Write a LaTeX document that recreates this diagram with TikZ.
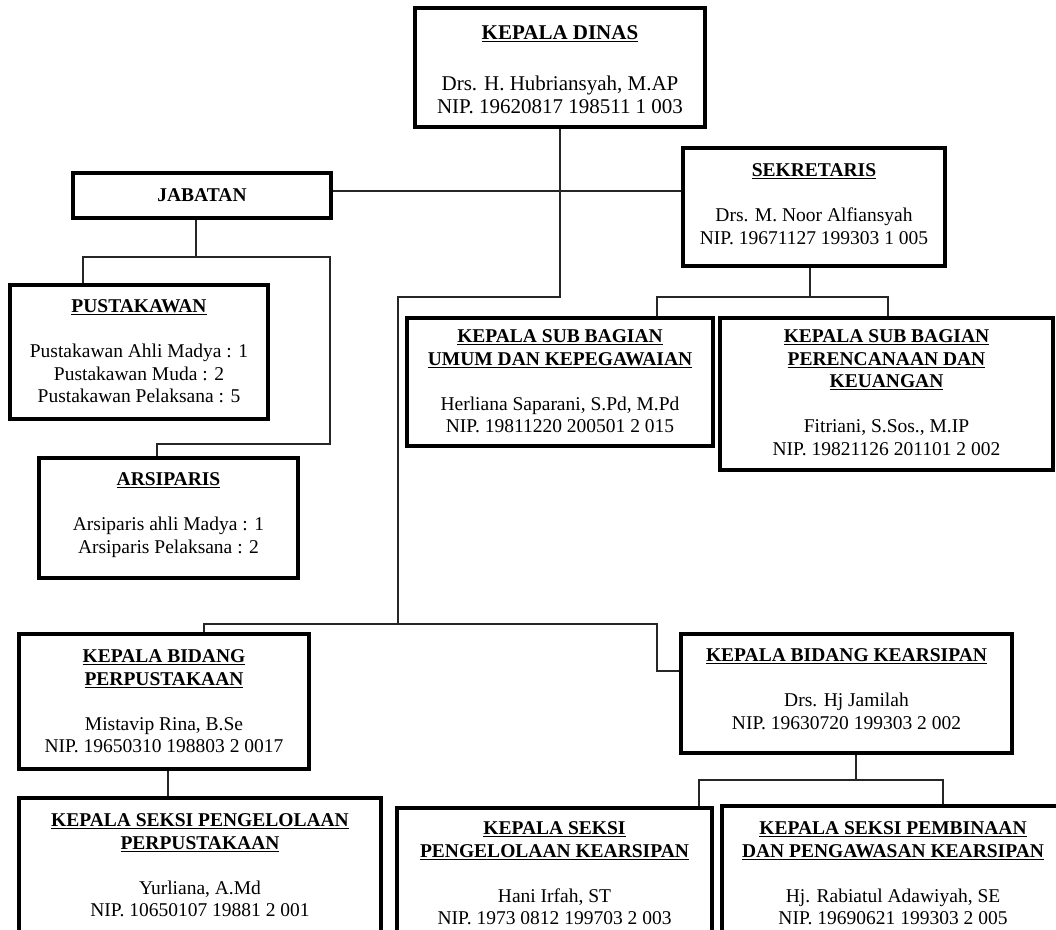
\documentclass[tikz,border=0pt]{standalone}
\usepackage{fontspec}
\setmainfont{Liberation Serif}
\begin{document}
\begin{tikzpicture}[x=1pt,y=-1pt,
  obox/.style={draw=black, line width=3.5pt, inner sep=0pt, fill=white},
  otext/.style={anchor=north, align=center, inner sep=0pt, font=\fontsize{19.5}{22.5}\selectfont},
  bigtext/.style={anchor=north, align=center, inner sep=0pt, font=\fontsize{21}{23}\selectfont},
  conn/.style={draw=black!85, line width=1.2pt}]
\useasboundingbox (0,0) rectangle (1056,929);
\clip (0,0) rectangle (1056,929);
\fill[white] (0,0) rectangle (1056,929);
% boxes
\node[obox, minimum width=290, minimum height=119] (kd) at (560,67.5) {};
\node[obox, minimum width=258, minimum height=45] (jab) at (202,195.5) {};
\node[obox, minimum width=262, minimum height=118] (sek) at (814,207) {};
\node[obox, minimum width=258, minimum height=134] (pus) at (139,352) {};
\node[obox, minimum width=259, minimum height=120] (ars) at (168.5,518) {};
\node[obox, minimum width=306, minimum height=128] (umum) at (560,382) {};
\node[obox, minimum width=333, minimum height=152] (renc) at (886.5,394) {};
\node[obox, minimum width=290, minimum height=135] (bperp) at (164,701.5) {};
\node[obox, minimum width=331, minimum height=119] (bkear) at (846.5,693.5) {};
\node[obox, minimum width=362, minimum height=147] (sperp) at (200,871.5) {};
\node[obox, minimum width=315, minimum height=137] (skear) at (554.5,876.5) {};
\node[obox, minimum width=342, minimum height=139] (spemb) at (893,875.5) {};
% texts
\node[bigtext] (kdt) at (560,25) {\textbf{\underline{KEPALA DINAS}}\\[28pt] Drs. H. Hubriansyah, M.AP\\ NIP. 19620817 198511 1 003};
\node[otext] (jabt) at (202,188.5) {\textbf{JABATAN}};
\node[otext] (sekt) at (814,163.5) {\textbf{\underline{SEKRETARIS}}\\[22.5pt] Drs. M. Noor Alfiansyah\\ NIP. 19671127 199303 1 005};
\node[otext] (pust) at (139,299.5) {\textbf{\underline{PUSTAKAWAN}}\\[22.5pt] Pustakawan Ahli Madya : 1\\ Pustakawan Muda : 2\\ Pustakawan Pelaksana : 5};
\node[otext] (arst) at (168.5,472.5) {\textbf{\underline{ARSIPARIS}}\\[22.5pt] Arsiparis ahli Madya : 1\\ Arsiparis Pelaksana : 2};
\node[otext] (umumt) at (560,329.5) {\textbf{\underline{KEPALA SUB BAGIAN}}\\ \textbf{\underline{UMUM DAN KEPEGAWAIAN}}\\[22.5pt] Herliana Saparani, S.Pd, M.Pd\\ NIP. 19811220 200501 2 015};
\node[otext] (renct) at (886.5,329.5) {\textbf{\underline{KEPALA SUB BAGIAN}}\\ \textbf{\underline{PERENCANAAN DAN}}\\ \textbf{\underline{KEUANGAN}}\\[22.5pt] Fitriani, S.Sos., M.IP\\ NIP. 19821126 201101 2 002};
\node[otext] (bperpt) at (164,649.5) {\textbf{\underline{KEPALA BIDANG}}\\ \textbf{\underline{PERPUSTAKAAN}}\\[22.5pt] Mistavip Rina, B.Se\\ NIP. 19650310 198803 2 0017};
\node[otext] (bkeart) at (846.5,648.5) {\textbf{\underline{KEPALA BIDANG KEARSIPAN}}\\[22.5pt] Drs. Hj Jamilah\\ NIP. 19630720 199303 2 002};
\node[otext] (sperpt) at (200,813.5) {\textbf{\underline{KEPALA SEKSI PENGELOLAAN}}\\ \textbf{\underline{PERPUSTAKAAN}}\\[22.5pt] Yurliana, A.Md\\ NIP. 10650107 19881 2 001};
\node[otext] (skeart) at (554.5,821.5) {\textbf{\underline{KEPALA SEKSI}}\\ \textbf{\underline{PENGELOLAAN KEARSIPAN}}\\[22.5pt] Hani Irfah, ST\\ NIP. 1973 0812 199703 2 003};
\node[otext] (spembt) at (893,821.5) {\textbf{\underline{KEPALA SEKSI PEMBINAAN}}\\ \textbf{\underline{DAN PENGAWASAN KEARSIPAN}}\\[22.5pt] Hj. Rabiatul Adawiyah, SE\\ NIP. 19690621 199303 2 005};
% connector coordinates
\coordinate (js) at (331,191);
\coordinate (jb1) at (196,257);
\coordinate (jh1) at (83,257);
\coordinate (jh2) at (330,257);
\coordinate (ah) at (157,444);
\coordinate (m1) at (560,297);
\coordinate (m2) at (398,297);
\coordinate (m3) at (398,624);
\coordinate (m4) at (204,624);
\coordinate (m5) at (657,624);
\coordinate (m6) at (657,671);
\coordinate (s1) at (810,297);
\coordinate (s2) at (657,297);
\coordinate (s3) at (888,297);
\coordinate (p1) at (168,780);
\coordinate (k1) at (856,780);
\coordinate (k2) at (699,780);
\coordinate (k3) at (943,780);
% connectors
\draw[conn] (jab.east |- js) -- (sek.west |- js);
\draw[conn] (jab.south -| jb1) -- (jb1);
\draw[conn] (pus.north -| jh1) -- (jh1) -- (jh2) -- (jh2 |- ah) -- (ah) -- (ars.north -| ah);
\draw[conn] (kd.south) -- (m1) -- (m2) -- (m3);
\draw[conn] (bperp.north -| m4) -- (m4) -- (m5) -- (m6) -- (bkear.west |- m6);
\draw[conn] (sek.south -| s1) -- (s1);
\draw[conn] (umum.north -| s2) -- (s2) -- (s3) -- (renc.north -| s3);
\draw[conn] (bperp.south -| p1) -- (sperp.north -| p1);
\draw[conn] (bkear.south -| k1) -- (k1);
\draw[conn] (skear.north -| k2) -- (k2) -- (k3) -- (spemb.north -| k3);
\end{tikzpicture}
\end{document}
